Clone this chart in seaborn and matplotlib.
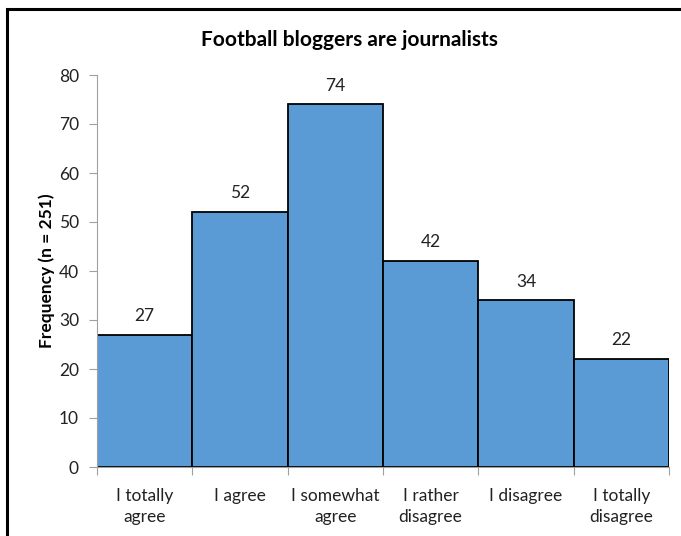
import matplotlib
matplotlib.use("Agg")
import matplotlib.pyplot as plt
import seaborn as sns
import pandas as pd
from matplotlib.patches import Rectangle

categories = ["I totally\nagree", "I agree", "I somewhat\nagree", "I rather\ndisagree",
              "I disagree", "I totally\ndisagree"]
counts = [27, 52, 74, 42, 34, 22]
y_ticks = [0, 10, 20, 30, 40, 50, 60, 70, 80]

sns.set_theme(style="white")
plt.rcParams["font.family"] = ["Lato", "DejaVu Sans"]

W, H = 681, 536
fig = plt.figure(figsize=(W / 100, H / 100), dpi=100)
ax = fig.add_axes([97 / W, 1 - 467 / H, (669 - 97) / W, (467 - 75) / H])

df = pd.DataFrame({"response": categories, "count": counts})
sns.barplot(data=df, x="response", y="count", ax=ax, width=1.0,
            color="#5B9BD5", saturation=1, edgecolor="black", linewidth=1.3)

ax.set_xlim(-0.5, len(categories) - 0.5)
ax.set_ylim(0, 80)
ax.set_yticks(y_ticks)
ax.set_xticks(range(len(categories)))
ax.set_xticklabels(categories, fontsize=12.5, color="#222222", linespacing=1.4)
ax.set_xticks([i - 0.5 for i in range(len(categories) + 1)], minor=True)
ax.tick_params(axis="x", which="major", length=0, pad=15)
ax.tick_params(axis="x", which="minor", length=6, width=0.8, color="#a0a0a0", direction="out")
ax.tick_params(axis="y", length=6, width=0.8, color="#a0a0a0", direction="out",
               labelsize=12.5, labelcolor="#222222", pad=7)
ax.tick_params(bottom=True, left=True, which="both")

for s in ["top", "right"]:
    ax.spines[s].set_visible(False)
for s in ["left", "bottom"]:
    ax.spines[s].set_color("#a0a0a0")
    ax.spines[s].set_linewidth(0.8)

ax.set_xlabel("")
ax.set_ylabel("Frequency (n = 251)", fontsize=12.5, fontweight="bold", color="black", labelpad=3)

for i, v in enumerate(counts):
    ax.text(i, v + 2.2, str(v), ha="center", va="bottom", fontsize=12.5, color="#222222")

fig.text(349 / W, 1 - 40 / H, "Football bloggers are journalists", ha="center", va="center",
         fontsize=15, fontweight="bold", color="black")

# outer chart frame (extends past the right and bottom edges)
fig.patches.append(Rectangle((6.5 / W, -0.1), 1.2, 1 - 9 / H + 0.1, transform=fig.transFigure,
                             fill=False, edgecolor="black", linewidth=2.2))

fig.savefig("out.png", dpi=100)
